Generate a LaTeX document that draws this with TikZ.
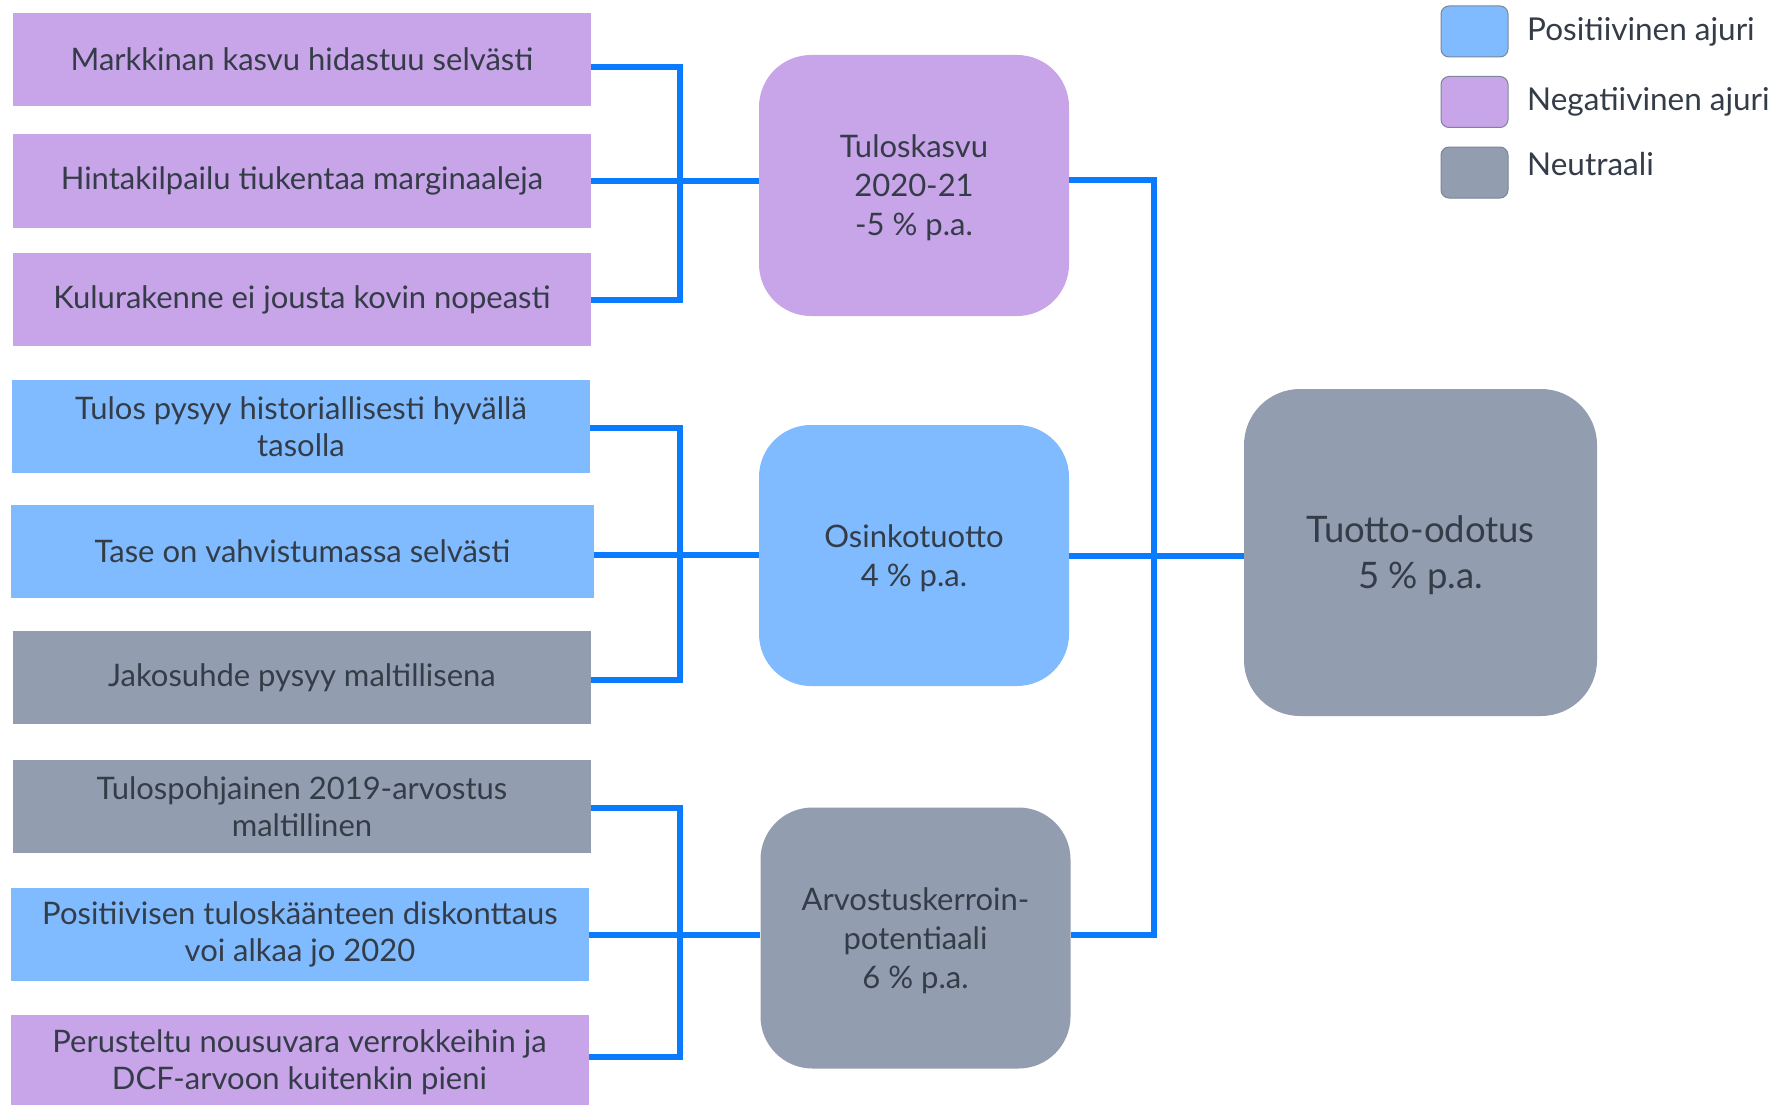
\documentclass[tikz,border=0pt]{standalone}
\usepackage{fontspec}
\setmainfont{Lato}
\definecolor{negc}{HTML}{C8A4E8}
\definecolor{posc}{HTML}{80BBFF}
\definecolor{neuc}{HTML}{929DAF}
\definecolor{linec}{HTML}{0A7AFF}
\definecolor{txtc}{HTML}{343C48}
\definecolor{legb}{HTML}{7C8698}
\tikzset{
  leftbox/.style={minimum width=578pt, minimum height=93pt, inner sep=0pt, align=center, text=txtc, font=\fontsize{31}{37.5}\selectfont},
  midbox/.style={minimum width=310pt, minimum height=261pt, rounded corners=52pt, inner sep=0pt, align=center, text=txtc, text depth=0pt, font=\fontsize{31}{39}\selectfont},
  bigbox/.style={minimum width=353pt, minimum height=327pt, rounded corners=56pt, inner sep=0pt, align=center, text=txtc, text depth=0pt, font=\fontsize{36.5}{46}\selectfont},
  legbox/.style={minimum width=67pt, minimum height=51pt, rounded corners=8pt, draw=legb, line width=1pt, inner sep=0pt},
  legtxt/.style={anchor=west, inner sep=0pt, text=txtc, font=\fontsize{31.5}{36}\selectfont},
  conn/.style={draw=linec, line width=6pt},
}
\begin{document}
\begin{tikzpicture}[x=1pt,y=-1pt]
\useasboundingbox[fill=white] (0,0) rectangle (1790,1105);
% left boxes
\node[leftbox, fill=negc] (b1) at (302,59.5) {Markkinan kasvu hidastuu selvästi};
\node[leftbox, fill=negc] (b2) at (302,181) {Hintakilpailu tiukentaa marginaaleja};
\node[leftbox, fill=negc] (b3) at (302,299.5) {Kulurakenne ei jousta kovin nopeasti};
\node[leftbox, fill=posc] (b4) at (301,426.5) {Tulos pysyy historiallisesti hyvällä\\tasolla};
\node[leftbox, fill=posc, minimum width=583pt] (b5) at (302.5,551) {Tase on vahvistumassa selvästi};
\node[leftbox, fill=neuc] (b6) at (302,677.5) {Jakosuhde pysyy maltillisena};
\node[leftbox, fill=neuc] (b7) at (302,806.5) {Tulospohjainen 2019-arvostus\\maltillinen};
\node[leftbox, fill=posc] (b8) at (300,934.5) {Positiivisen tuloskäänteen diskonttaus\\voi alkaa jo 2020};
\node[leftbox, fill=negc, minimum height=95pt] (b9) at (299.5,1062) {Perusteltu nousuvara verrokkeihin ja\\DCF-arvoon kuitenkin pieni};
% middle boxes
\node[midbox, fill=negc] (m1) at (914,185.5) {Tuloskasvu\\2020-21\\-5 \% p.a.};
\node[midbox, fill=posc] (m2) at (914,555.5) {Osinkotuotto\\4 \% p.a.};
\node[midbox, fill=neuc] (m3) at (915.5,938) {Arvostuskerroin-\\potentiaali\\6 \% p.a.};
% big box
\node[bigbox, fill=neuc] (t) at (1420.5,552.5) {Tuotto-odotus\\5 \% p.a.};
% legend
\node[legbox, fill=posc] (l1) at (1474.5,31.5) {};
\node[legbox, fill=negc] (l2) at (1474.5,102) {};
\node[legbox, fill=neuc] (l3) at (1474.5,172.5) {};
\node[legtxt] (lt1) at (1527,32) {Positiivinen ajuri};
\node[legtxt] (lt2) at (1527,102) {Negatiivinen ajuri};
\node[legtxt] (lt3) at (1527,164) {Neutraali};
% coordinates
\coordinate (x1) at (680,0);
\coordinate (x2) at (1154,0);
% connectors group 1
\draw[conn] ([yshift=-7.5pt]b1.east) -| (x1 |- b3.east) -- (b3.east);
\draw[conn] (b2.east) -- (b2.east -| m1.west);
% group 2
\draw[conn] ([yshift=-1.5pt]b4.east) -| ([yshift=-2.5pt]x1 |- b6.east) -- ([yshift=-2.5pt]b6.east);
\draw[conn] ([yshift=-4pt]b5.east) -- ([yshift=-4pt]b5.east -| m2.west);
% group 3
\draw[conn] ([yshift=-1.5pt]b7.east) -| ([yshift=5pt]x1 |- b9.east) -- ([yshift=5pt]b9.east);
\draw[conn] (b8.east) -- (b8.east -| m3.west);
% right bus
\draw[conn] ([yshift=5.5pt]m1.east) -| ([yshift=3pt]x2 |- m3.east) -- ([yshift=3pt]m3.east);
\draw[conn] (m2.east) -- (m2.east -| t.west);
\end{tikzpicture}
\end{document}
